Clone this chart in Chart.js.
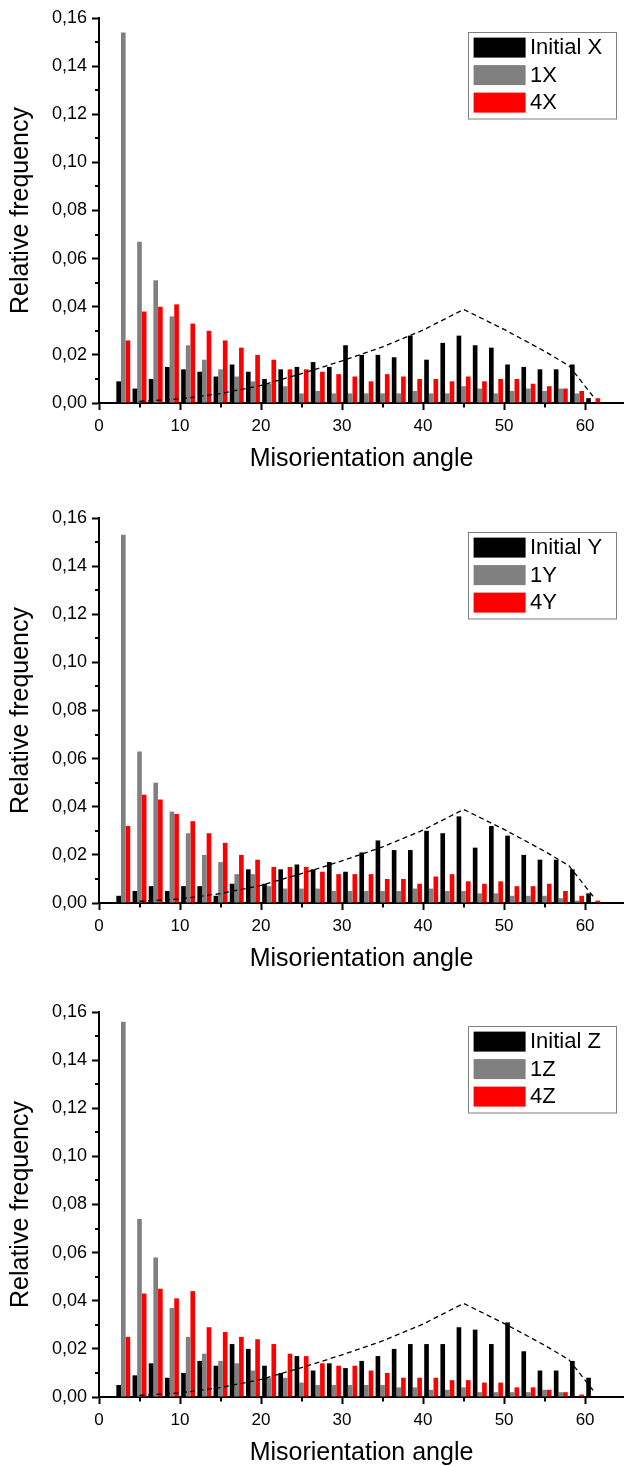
<!DOCTYPE html>
<html>
<head>
<meta charset="utf-8">
<title>Misorientation angle distributions</title>
<script src="https://cdn.jsdelivr.net/npm/chart.js@4.4.1/dist/chart.umd.min.js"></script>
<style>
  html, body { margin: 0; padding: 0; background: #fff; }
  body { width: 624px; height: 1466px; position: relative; overflow: hidden; }
  canvas { position: absolute; left: 0; }
</style>
</head>
<body>
<canvas id="chartX" width="624" height="472" style="top:0px"></canvas>
<canvas id="chartY" width="624" height="472" style="top:500px"></canvas>
<canvas id="chartZ" width="624" height="472" style="top:994px"></canvas>
<script>
// --- Data ---
// bin centres, degrees
const angles = [3, 5, 7, 9, 11, 13, 15, 17, 19, 21, 23, 25, 27, 29, 31,
                33, 35, 37, 39, 41, 43, 45, 47, 49, 51, 53, 55, 57, 59, 61];

const initialX = [0.009, 0.006, 0.010, 0.015, 0.014, 0.013, 0.011, 0.016, 0.013, 0.010, 0.014, 0.015, 0.017, 0.015, 0.024,
                  0.020, 0.020, 0.019, 0.028, 0.018, 0.025, 0.028, 0.024, 0.023, 0.016, 0.015, 0.014, 0.014, 0.016, 0.002];
const oneX     = [0.154, 0.067, 0.051, 0.036, 0.024, 0.018, 0.014, 0.011, 0.009, 0.008, 0.007, 0.004, 0.005, 0.004, 0.004,
                  0.004, 0.004, 0.004, 0.005, 0.004, 0.004, 0.007, 0.006, 0.004, 0.005, 0.006, 0.005, 0.006, 0.004, 0.000];
const fourX    = [0.026, 0.038, 0.040, 0.041, 0.033, 0.030, 0.026, 0.023, 0.020, 0.018, 0.014, 0.014, 0.013, 0.012, 0.011,
                  0.009, 0.012, 0.011, 0.010, 0.010, 0.009, 0.011, 0.009, 0.010, 0.010, 0.008, 0.007, 0.006, 0.005, 0.002];

const initialY = [0.003, 0.005, 0.007, 0.005, 0.007, 0.007, 0.003, 0.008, 0.014, 0.008, 0.014, 0.016, 0.014, 0.017, 0.013,
                  0.021, 0.026, 0.022, 0.022, 0.030, 0.029, 0.036, 0.023, 0.032, 0.028, 0.020, 0.018, 0.018, 0.014, 0.004];
const oneY     = [0.153, 0.063, 0.050, 0.038, 0.029, 0.020, 0.017, 0.012, 0.012, 0.007, 0.006, 0.006, 0.006, 0.005, 0.005,
                  0.005, 0.005, 0.005, 0.006, 0.006, 0.005, 0.005, 0.004, 0.004, 0.003, 0.003, 0.003, 0.002, 0.001, 0.000];
const fourY    = [0.032, 0.045, 0.043, 0.037, 0.034, 0.029, 0.025, 0.020, 0.018, 0.015, 0.015, 0.015, 0.013, 0.012, 0.012,
                  0.012, 0.010, 0.010, 0.008, 0.011, 0.012, 0.009, 0.008, 0.009, 0.007, 0.007, 0.008, 0.005, 0.003, 0.001];

const initialZ = [0.005, 0.009, 0.014, 0.008, 0.010, 0.015, 0.013, 0.022, 0.020, 0.013, 0.010, 0.017, 0.011, 0.014, 0.012,
                  0.015, 0.017, 0.020, 0.022, 0.022, 0.022, 0.029, 0.028, 0.022, 0.031, 0.019, 0.011, 0.011, 0.015, 0.008];
const oneZ     = [0.156, 0.074, 0.058, 0.037, 0.025, 0.018, 0.015, 0.014, 0.011, 0.008, 0.008, 0.006, 0.005, 0.005, 0.005,
                  0.005, 0.005, 0.004, 0.004, 0.003, 0.003, 0.004, 0.002, 0.002, 0.002, 0.002, 0.003, 0.002, 0.000, 0.000];
const fourZ    = [0.025, 0.043, 0.045, 0.041, 0.044, 0.029, 0.027, 0.025, 0.024, 0.022, 0.018, 0.017, 0.014, 0.013, 0.013,
                  0.011, 0.010, 0.008, 0.008, 0.008, 0.007, 0.007, 0.006, 0.006, 0.004, 0.004, 0.003, 0.002, 0.001, 0.000];

// random (Mackenzie) distribution, dashed line
const mackenzieAngles = [5, 10, 15, 20, 25, 30, 35, 40, 45, 50, 55, 58, 61];
const mackenzieFreq   = [0.0007, 0.0017, 0.0039, 0.0073, 0.0122, 0.0175, 0.0233, 0.0303, 0.0389, 0.0306, 0.0215, 0.0155, 0.0027];

// ticks
const xMajorTicks = [0, 10, 20, 30, 40, 50, 60];
const xMinorTicks = [5, 15, 25, 35, 45, 55];
const yMajorTicks = [0, 0.02, 0.04, 0.06, 0.08, 0.10, 0.12, 0.14, 0.16];
const yMinorTicks = [0.01, 0.03, 0.05, 0.07, 0.09, 0.11, 0.13, 0.15];

const FONT = '"Liberation Sans", Arial, sans-serif';
Chart.defaults.color = '#000';
Chart.defaults.font.family = FONT;

// --- Plugins ---
// short unlabeled ticks
const minorTicks = {
    id: 'minorTicks',
    afterDraw(chart) {
        const { ctx, chartArea, scales } = chart;
        ctx.save();
        ctx.strokeStyle = '#000';
        ctx.lineWidth = 2;
        ctx.beginPath();
        xMinorTicks.forEach(v => {
            const px = Math.round(scales.x.getPixelForValue(v));
            ctx.moveTo(px, chartArea.bottom);
            ctx.lineTo(px, chartArea.bottom + 4.5);
        });
        yMinorTicks.forEach(v => {
            const py = Math.round(scales.y.getPixelForValue(v));
            ctx.moveTo(chartArea.left, py);
            ctx.lineTo(chartArea.left - 4, py);
        });
        ctx.stroke();
        ctx.restore();
    }
};

// framed legend in the upper right corner, bars only
const boxLegend = {
    id: 'boxLegend',
    afterDraw(chart) {
        const { ctx, chartArea } = chart;
        const bars = chart.data.datasets.filter(d => d.type !== 'line');
        const w = 148, h = 86.5;
        const x0 = Math.round(chartArea.right - 8.3 - w);
        const y0 = Math.round(chartArea.top + 14.4);
        ctx.save();
        ctx.fillStyle = '#fff';
        ctx.fillRect(x0, y0, w, h);
        ctx.strokeStyle = '#808080';
        ctx.lineWidth = 1;
        ctx.strokeRect(x0 + 0.5, y0 + 0.5, w, h);
        ctx.font = '22px ' + FONT;
        ctx.textBaseline = 'middle';
        bars.forEach((d, i) => {
            const sy = y0 + 5.6 + i * 27.5;
            ctx.fillStyle = d.backgroundColor;
            ctx.fillRect(x0 + 5.6, sy, 52, 20);
            ctx.fillStyle = '#000';
            ctx.fillText(d.label, x0 + 62, sy + 10.5);
        });
        ctx.restore();
    }
};

// --- Chart factory ---
function toPoints(xs, ys) {
    return xs.map((x, i) => ({ x: x, y: ys[i] }));
}

function barSet(label, values, color) {
    return {
        label: label,
        data: toPoints(angles, values),
        backgroundColor: color,
        borderWidth: 0,
        categoryPercentage: 0.86,
        barPercentage: 1.0,
        order: 1
    };
}

function makeChart(canvasId, labels, initial, one, four) {
    const ctx = document.getElementById(canvasId).getContext('2d');
    return new Chart(ctx, {
        type: 'bar',
        data: {
            datasets: [
                {
                    type: 'line',
                    label: 'random',
                    data: toPoints(mackenzieAngles, mackenzieFreq),
                    borderColor: '#000',
                    borderWidth: 1.3,
                    borderDash: [5, 3.5],
                    pointRadius: 0,
                    fill: false,
                    tension: 0,
                    order: 0
                },
                barSet(labels[0], initial, '#000000'),
                barSet(labels[1], one, '#808080'),
                barSet(labels[2], four, '#ff0000')
            ]
        },
        options: {
            responsive: false,
            animation: false,
            layout: { padding: { top: 18, left: 0, right: 0, bottom: 0 } },
            plugins: { legend: { display: false }, tooltip: { enabled: false } },
            scales: {
                x: {
                    type: 'linear',
                    min: 0,
                    max: 64.8,
                    offset: false,
                    afterBuildTicks: axis => { axis.ticks = xMajorTicks.map(v => ({ value: v })); },
                    afterFit: axis => { axis.height = 69; },
                    grid: { offset: false, drawOnChartArea: false, drawTicks: true, tickLength: 7, tickWidth: 2, tickColor: '#000' },
                    border: { display: true, color: '#000', width: 2 },
                    ticks: { font: { size: 17 }, padding: 6, maxRotation: 0, color: '#000' },
                    title: {
                        display: true,
                        text: 'Misorientation angle',
                        font: { size: 25, lineHeight: 1 },
                        padding: 0,
                        color: '#000'
                    }
                },
                y: {
                    min: 0,
                    max: 0.16,
                    afterBuildTicks: axis => { axis.ticks = yMajorTicks.map(v => ({ value: v })); },
                    afterFit: axis => { axis.width = 99; },
                    grid: { drawOnChartArea: false, drawTicks: true, tickLength: 7, tickWidth: 2, tickColor: '#000' },
                    border: { display: true, color: '#000', width: 2 },
                    ticks: {
                        font: { size: 18 },
                        padding: 5,
                        color: '#000',
                        callback: v => v.toFixed(2).replace('.', ',')
                    },
                    title: {
                        display: true,
                        text: 'Relative frequency',
                        font: { size: 25, lineHeight: 1 },
                        padding: { top: 9, bottom: 0 },
                        color: '#000'
                    }
                }
            }
        },
        plugins: [minorTicks, boxLegend]
    });
}

makeChart('chartX', ['Initial X', '1X', '4X'], initialX, oneX, fourX);
makeChart('chartY', ['Initial Y', '1Y', '4Y'], initialY, oneY, fourY);
makeChart('chartZ', ['Initial Z', '1Z', '4Z'], initialZ, oneZ, fourZ);
</script>
</body>
</html>
